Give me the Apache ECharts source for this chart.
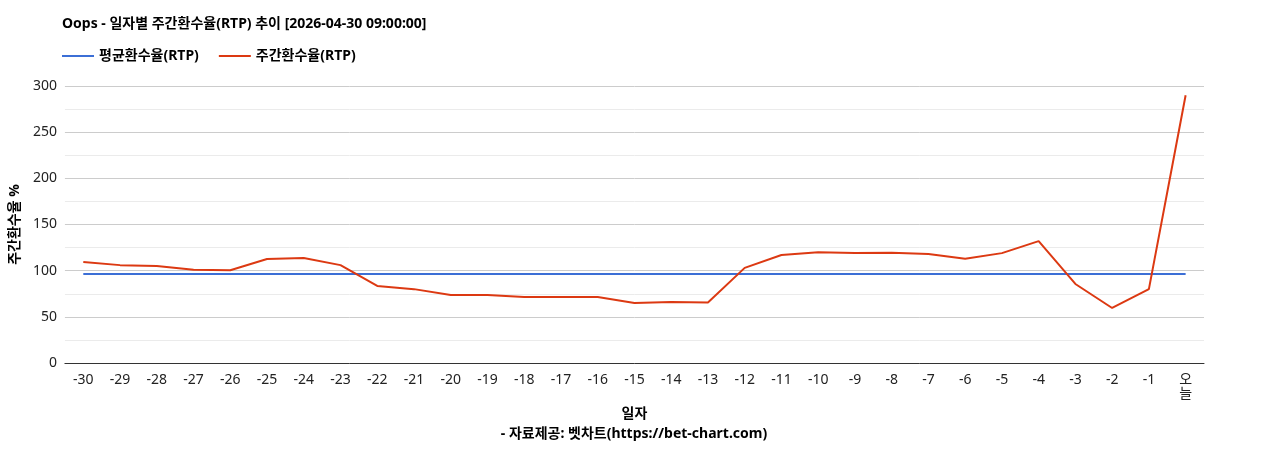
<!DOCTYPE html>
<html><head><meta charset="utf-8">
<script src="https://cdn.jsdelivr.net/npm/echarts@6/dist/echarts.min.js"></script>
<style>html,body{margin:0;background:#fff}#c{width:1268px;height:450px}</style>
</head><body><div id="c"></div>
<script>
var days = ['-30','-29','-28','-27','-26','-25','-24','-23','-22','-21','-20','-19','-18','-17','-16','-15','-14','-13','-12','-11','-10','-9','-8','-7','-6','-5','-4','-3','-2','-1','오\n늘'];
var avgRtp = 96.5;
var weekRtp = [109.4,106,105,101,100.5,112.7,113.8,106,83.4,80,73.7,73.7,71.5,71.5,71.5,65,66,65.5,103,117,120,119,119.5,118,113,119,132,85.6,59.6,80,290];
var yTicks = [0, 300, 50];

var font = 'Noto Sans, Noto Sans CJK KR, sans-serif';
var chart = echarts.init(document.getElementById('c'));
chart.setOption({
  textStyle: {fontFamily: font},
  title: [
    {text: 'Oops - 일자별 주간환수율(RTP) 추이 [2026-04-30 09:00:00]', left: 57, top: 12,
     textStyle: {fontSize: 14, fontWeight: 'bold', color: '#000', fontFamily: font}},
    {text: '- 자료제공: 벳차트(https://bet-chart.com)', left: 'center', top: 422,
     textStyle: {fontSize: 14, fontWeight: 'bold', color: '#000', fontFamily: font}}
  ],
  legend: {left: 57, top: 44, itemWidth: 32, itemHeight: 2, itemGap: 20, icon: 'rect',
    textStyle: {fontSize: 14, fontWeight: 'bold', color: '#000'}},
  grid: {left: 63, right: 64, top: 86, bottom: 87},
  xAxis: {type: 'category', data: days, boundaryGap: true, name: '일자', nameLocation: 'middle', nameGap: 44,
    nameTextStyle: {fontSize: 14, fontWeight: 'bold', color: '#000'},
    axisLine: {lineStyle: {color: '#333'}}, axisTick: {show: false},
    axisLabel: {color: '#222', fontSize: 14, interval: 0, margin: 10}},
  yAxis: {type: 'value', min: yTicks[0], max: yTicks[1], interval: yTicks[2],
    name: '주간환수율 %', nameLocation: 'middle', nameGap: 40,
    nameTextStyle: {fontSize: 14, fontWeight: 'bold', color: '#000'},
    axisLabel: {color: '#222', fontSize: 14},
    splitLine: {lineStyle: {color: '#ccc'}},
    minorTick: {show: false, splitNumber: 2},
    minorSplitLine: {show: true, lineStyle: {color: '#ebebeb'}}},
  series: [
    {name: '평균환수율(RTP)', type: 'line', data: days.map(function(){return avgRtp;}), symbol: 'none',
     lineStyle: {color: '#3c6fd6', width: 2}, itemStyle: {color: '#3c6fd6'}},
    {name: '주간환수율(RTP)', type: 'line', data: weekRtp, symbol: 'none',
     lineStyle: {color: '#dc3912', width: 2}, itemStyle: {color: '#dc3912'}}
  ]
});
</script></body></html>
